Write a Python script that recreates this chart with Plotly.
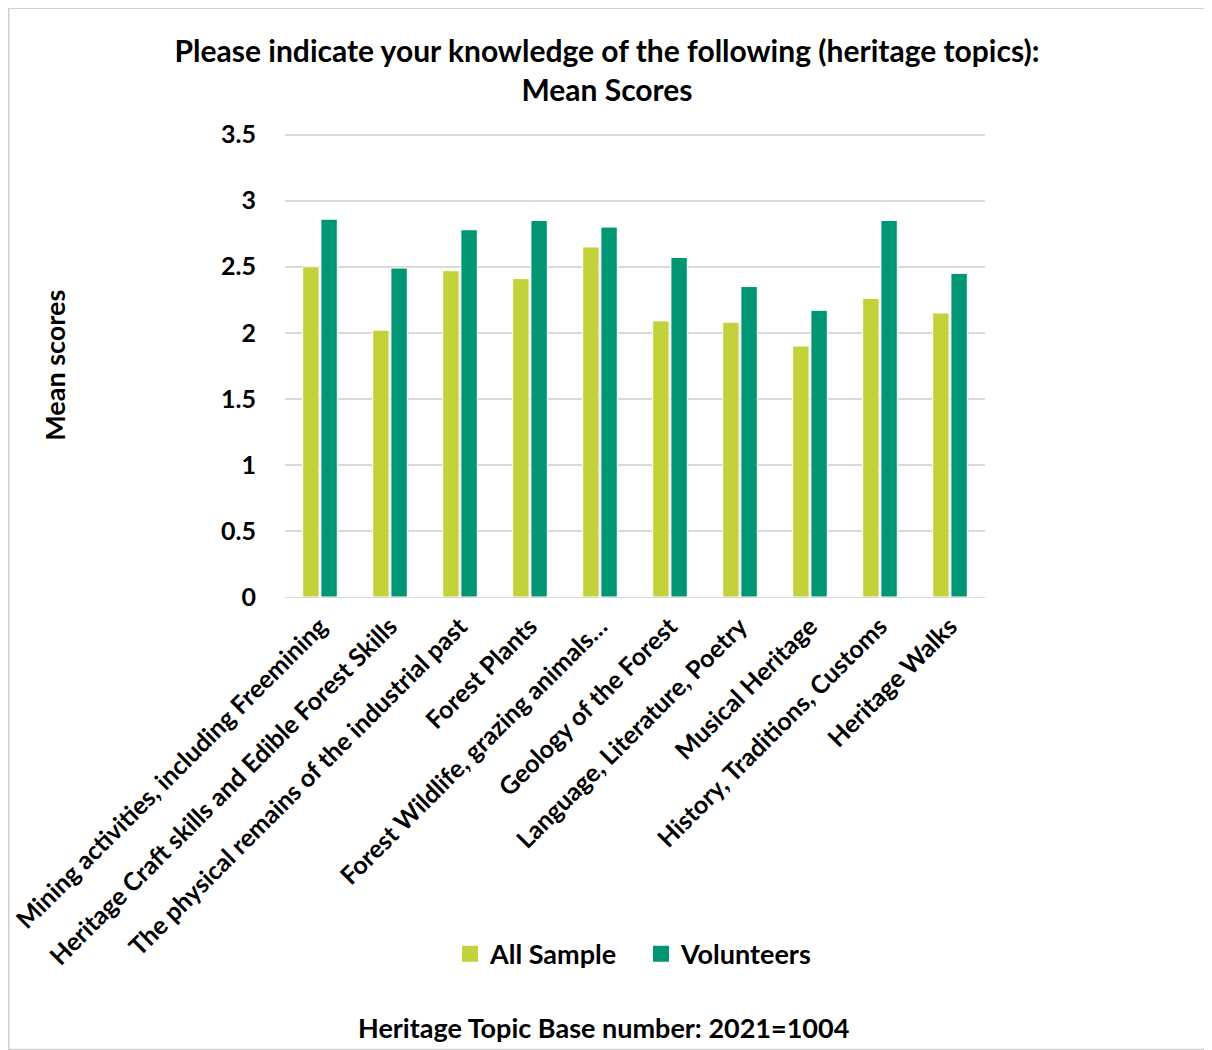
import plotly.graph_objects as go

categories = [
    "Mining activities, including Freemining",
    "Heritage Craft skills and Edible Forest Skills",
    "The physical remains of the industrial past",
    "Forest Plants",
    "Forest Wildlife, grazing animals…",
    "Geology of the Forest",
    "Language, Literature, Poetry",
    "Musical Heritage",
    "History, Traditions, Customs",
    "Heritage Walks",
]
all_sample = [2.50, 2.02, 2.47, 2.41, 2.65, 2.09, 2.08, 1.90, 2.26, 2.15]
volunteers = [2.86, 2.49, 2.78, 2.85, 2.80, 2.57, 2.35, 2.17, 2.85, 2.45]
y_ticks = [0, 0.5, 1, 1.5, 2, 2.5, 3, 3.5]
y_tick_labels = ["0", "0.5", "1", "1.5", "2", "2.5", "3", "3.5"]

FONT = "Lato"
C_ALL = "#C3D13A"
C_VOL = "#009573"

fig = go.Figure()
fig.add_trace(go.Bar(name="All Sample", x=categories, y=all_sample, showlegend=False,
                     marker=dict(color=C_ALL, line=dict(color="white", width=1))))
fig.add_trace(go.Bar(name="Volunteers", x=categories, y=volunteers, showlegend=False,
                     marker=dict(color=C_VOL, line=dict(color="white", width=1))))
# legend entries with larger square swatches
for name, col in [("All Sample", C_ALL), ("Volunteers", C_VOL)]:
    fig.add_trace(go.Scatter(name=name, x=[None], y=[None], mode="markers",
                             marker=dict(symbol="square", size=16, color=col)))

OFF = 8  # page body margin
Y_TOP = 3.52
W, H = 1212 - OFF, 1050 - OFF
plot_h = 462 * Y_TOP / 3.5
T = 597 - OFF - plot_h
L = 285 - OFF
R, B = W - (985 - OFF), H - (597 - OFF)
pw, ph = W - L - R, plot_h

def px_x(px):
    return (px - OFF - L) / pw

def px_y(py):
    return (H - B - (py - OFF)) / ph

fig.update_layout(
    width=W, height=H,
    margin=dict(l=L, r=R, t=T, b=B, autoexpand=False),
    paper_bgcolor="white", plot_bgcolor="white",
    barmode="group", bargap=0.48, bargroupgap=0.1,
    font=dict(family=FONT, color="black"),
    title=dict(text="Please indicate your knowledge of the following (heritage topics):<br>Mean Scores",
               x=(607 - OFF) / W, xanchor="center", xref="container", y=1 - (62 - OFF) / H, yanchor="middle",
               font=dict(family=FONT, size=30, weight="bold", color="black")),
    xaxis=dict(tickangle=-45, tickfont=dict(family=FONT, size=25, weight="bold", color="black"),
               showgrid=False, showline=True, linecolor="#D9D9D9", linewidth=1, ticks="",
               ticklabelstandoff=4),
    yaxis=dict(range=[0, Y_TOP], tickvals=y_ticks, ticktext=y_tick_labels,
               tickfont=dict(family=FONT, size=25, weight="bold", color="black"),
               showgrid=True, gridcolor="#D9D9D9", gridwidth=1.5, zeroline=False,
               showline=False, ticks="", ticklabelstandoff=28),
    legend=dict(orientation="h", x=px_x(450), xanchor="left", y=px_y(954), yanchor="middle",
                font=dict(family=FONT, size=27, weight="bold", color="black"),
                itemwidth=30, traceorder="normal", entrywidth=146, entrywidthmode="pixels"),
    showlegend=True,
)

fig.add_annotation(text="Mean scores", textangle=-90, xref="paper", yref="paper",
                   x=px_x(55), y=px_y(366), showarrow=False, xanchor="center", yanchor="middle",
                   font=dict(family=FONT, size=27, weight="bold", color="black"))
fig.add_annotation(text="Heritage Topic Base number: 2021=1004", xref="paper", yref="paper",
                   x=px_x(603), y=px_y(1027), showarrow=False, xanchor="center", yanchor="middle",
                   font=dict(family=FONT, size=27, weight="bold", color="black"))
fig.add_shape(type="rect", xref="paper", yref="paper",
              x0=px_x(OFF + 0.75), x1=px_x(OFF + W - 0.75), y0=px_y(OFF + H - 0.75), y1=px_y(OFF + 0.75),
              line=dict(color="#D0D0D0", width=1.5), fillcolor="rgba(0,0,0,0)", layer="below")

fig.write_html("out.html")
